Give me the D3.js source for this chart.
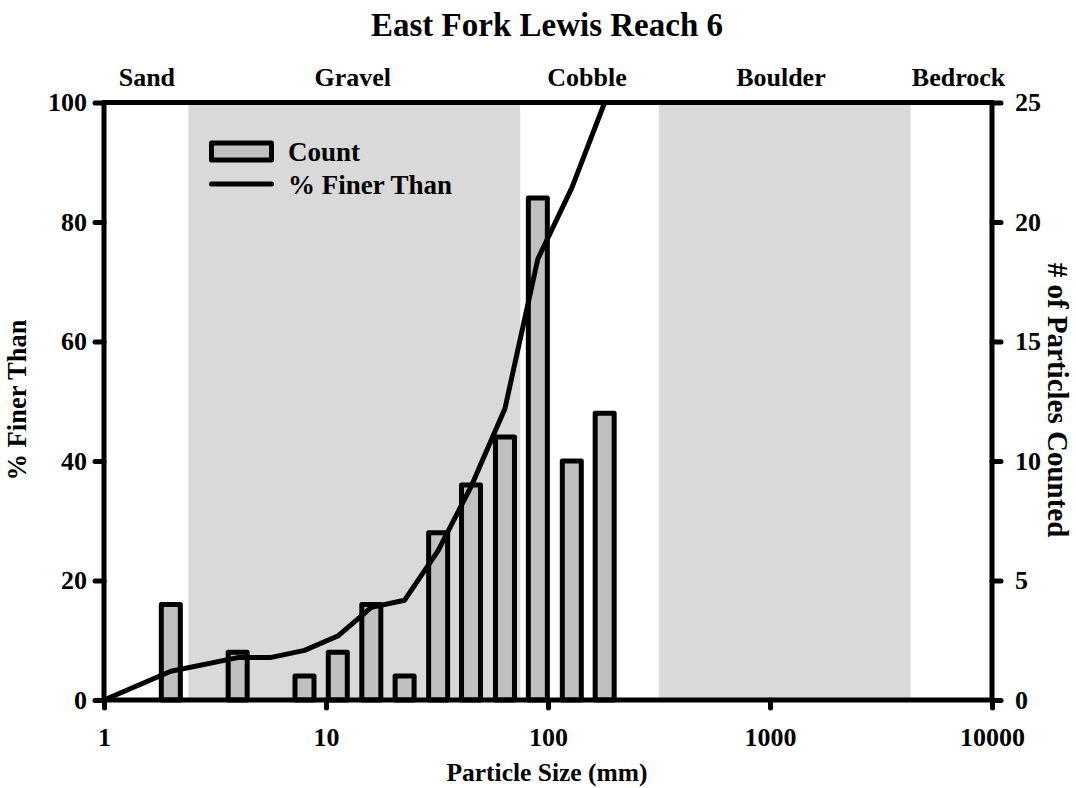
<!DOCTYPE html>
<html>
<head>
<meta charset="utf-8">
<script src="https://cdn.jsdelivr.net/npm/d3@7"></script>
<style>
  body { margin: 0; background: #fff; }
  svg text { font-family: "Liberation Serif", "Times New Roman", serif; font-weight: bold; fill: #000; }
</style>
</head>
<body>
<svg id="chart"></svg>
<script>
// particle size classes (mm), counts per class and cumulative % finer
var sizes = [1, 2, 4, 5.6, 8, 11.3, 16, 22.6, 32, 45, 64, 90, 128, 180];
var counts = [0, 4, 2, 0, 1, 2, 4, 1, 7, 9, 11, 21, 10, 12];
var pctFiner = [0, 4.8, 7.1, 7.1, 8.3, 10.7, 15.5, 16.7, 25.0, 35.7, 48.8, 73.8, 85.7, 100];

// shaded size-class bands and the labels above the plot
var bandStart = [2.4, 316];
var bandEnd = [75, 4300];
var classNames = ["Sand", "Gravel", "Cobble", "Boulder", "Bedrock"];
var classPos = [1.56, 13.2, 150, 1120, 7070];

var xTicks = [1, 10, 100, 1000, 10000];
var pctTicks = [0, 20, 40, 60, 80, 100];
var countTicks = [0, 5, 10, 15, 20, 25];

var width = 1076, height = 788;
var plotL = 104, plotR = 992, plotT = 102.5, plotB = 700;

var svg = d3.select("#chart")
    .attr("width", width)
    .attr("height", height);

var x = d3.scaleLog().domain([1, 10000]).range([plotL, plotR]);
var yPct = d3.scaleLinear().domain([0, 100]).range([plotB, plotT]);
var yCount = d3.scaleLinear().domain([0, 25]).range([plotB, plotT]);

// bands
svg.selectAll(".band")
    .data(bandStart)
    .enter().append("rect")
    .attr("class", "band")
    .attr("x", function(d){ return x(d); })
    .attr("y", plotT)
    .attr("width", function(d, i){ return x(bandEnd[i]) - x(d); })
    .attr("height", plotB - plotT)
    .attr("fill", "#d9d9d9");

// bars
var barW = 19;
var bars = sizes.map(function(s, i){ return {s: s, c: counts[i]}; })
    .filter(function(d){ return d.c > 0; });

svg.selectAll(".bar")
    .data(bars)
    .enter().append("rect")
    .attr("class", "bar")
    .attr("x", function(d){ return x(d.s) - barW/2; })
    .attr("y", function(d){ return yCount(d.c); })
    .attr("width", barW)
    .attr("height", function(d){ return plotB - yCount(d.c); })
    .attr("fill", "#c0c0c0")
    .attr("stroke", "#000")
    .attr("stroke-width", 5)
    .attr("stroke-linejoin", "round");

// % finer line
var line = d3.line()
    .x(function(d, i){ return x(sizes[i]); })
    .y(function(d){ return yPct(d); });

svg.append("path")
    .datum(pctFiner)
    .attr("d", line)
    .attr("fill", "none")
    .attr("stroke", "#000")
    .attr("stroke-width", 5)
    .attr("stroke-linejoin", "round");

// axes
function styleAxis(g){
    g.select(".domain").remove();
    g.selectAll(".tick line")
        .attr("stroke", "#000")
        .attr("stroke-width", 5)
        .attr("stroke-linecap", "round");
    g.selectAll(".tick text")
        .style("font-size", "26px")
        .style("font-family", "Liberation Serif, Times New Roman, serif")
        .style("font-weight", "bold");
}

svg.append("g")
    .attr("transform", "translate(0," + plotB + ")")
    .call(d3.axisBottom(x).tickValues(xTicks).tickFormat(d3.format("d")).tickSize(8).tickPadding(20))
    .call(styleAxis);

svg.append("g")
    .attr("transform", "translate(" + plotL + ",0)")
    .call(d3.axisLeft(yPct).tickValues(pctTicks).tickSize(9).tickPadding(8))
    .call(styleAxis);

svg.append("g")
    .attr("transform", "translate(" + plotR + ",0)")
    .call(d3.axisRight(yCount).tickValues(countTicks).tickSize(9).tickPadding(14))
    .call(styleAxis);

// frame
var frame = [[plotL, plotB, plotL, plotT], [plotR, plotB, plotR, plotT], [plotL, plotB, plotR, plotB], [plotL, plotT, plotR, plotT]];
svg.selectAll(".frame")
    .data(frame)
    .enter().append("line")
    .attr("x1", function(d){ return d[0]; })
    .attr("y1", function(d){ return d[1]; })
    .attr("x2", function(d){ return d[2]; })
    .attr("y2", function(d){ return d[3]; })
    .attr("stroke", "#000")
    .attr("stroke-width", 5)
    .attr("stroke-linecap", "round");

// class labels
svg.selectAll(".cls")
    .data(classNames)
    .enter().append("text")
    .attr("x", function(d, i){ return x(classPos[i]); })
    .attr("y", 86)
    .attr("text-anchor", "middle")
    .style("font-size", "26px")
    .text(function(d){ return d; });

// titles
svg.append("text")
    .attr("x", 547).attr("y", 36)
    .attr("text-anchor", "middle")
    .style("font-size", "33px")
    .text("East Fork Lewis Reach 6");

svg.append("text")
    .attr("x", 547).attr("y", 781)
    .attr("text-anchor", "middle")
    .style("font-size", "25.5px")
    .text("Particle Size (mm)");

svg.append("text")
    .attr("transform", "translate(26,400) rotate(-90)")
    .attr("text-anchor", "middle")
    .style("font-size", "26.5px")
    .text("% Finer Than");

svg.append("text")
    .attr("transform", "translate(1048,400) rotate(90)")
    .attr("text-anchor", "middle")
    .style("font-size", "29px")
    .text("# of Particles Counted");

// legend
var legend = svg.append("g");
legend.append("rect")
    .attr("x", 211.5).attr("y", 143)
    .attr("width", 60).attr("height", 17)
    .attr("fill", "#c0c0c0")
    .attr("stroke", "#000")
    .attr("stroke-width", 5)
    .attr("stroke-linejoin", "round");
legend.append("line")
    .attr("x1", 211.5).attr("x2", 271.5)
    .attr("y1", 184).attr("y2", 184)
    .attr("stroke", "#000")
    .attr("stroke-width", 5)
    .attr("stroke-linecap", "round");
legend.append("text")
    .attr("x", 288).attr("y", 161)
    .style("font-size", "27px")
    .text("Count");
legend.append("text")
    .attr("x", 288).attr("y", 194)
    .style("font-size", "27px")
    .text("% Finer Than");
</script>
</body>
</html>
